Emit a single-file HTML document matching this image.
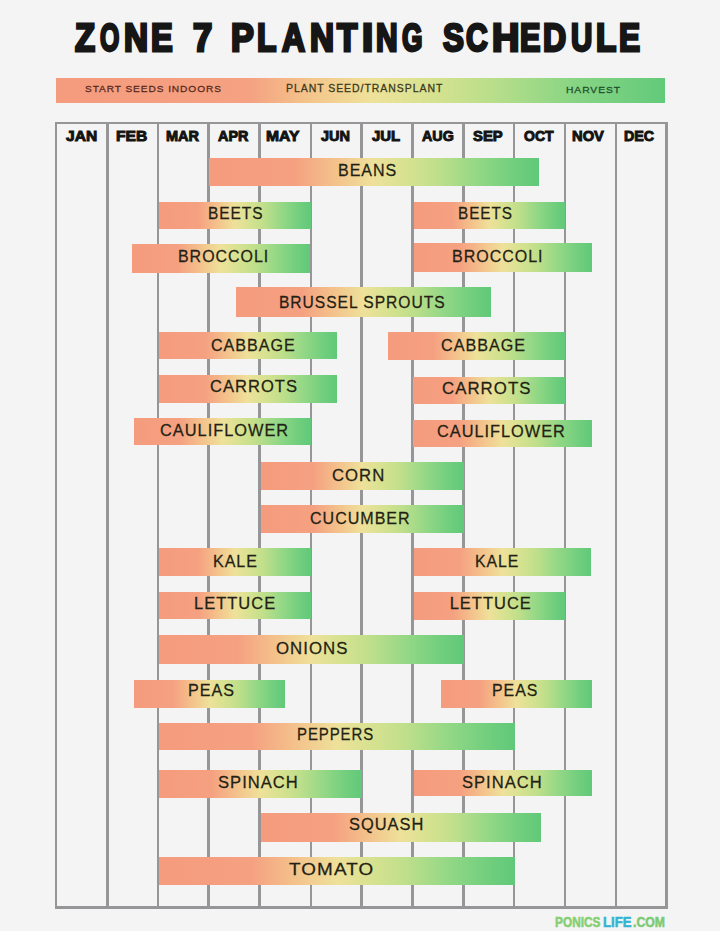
<!DOCTYPE html>
<html><head><meta charset="utf-8"><title>Zone 7 Planting Schedule</title>
<style>
html,body{margin:0;padding:0;}
body{width:720px;height:931px;overflow:hidden;position:relative;background:#f4f4f4;font-family:"Liberation Sans",sans-serif;}
.a{position:absolute;}
.tx{position:absolute;line-height:1;white-space:nowrap;transform-origin:0 0;}
.t{font-weight:bold;font-size:41px;-webkit-text-stroke:3px #161616;}
.m{font-weight:bold;font-size:17px;-webkit-text-stroke:1.1px #111;}
.lb{font-size:16.5px;-webkit-text-stroke:0.25px #231f14;letter-spacing:1px;}
.lg{font-size:11px;-webkit-text-stroke:0.3px currentColor;letter-spacing:1px;}
.ft{font-size:13px;font-weight:bold;-webkit-text-stroke:0.5px currentColor;}
.v{position:absolute;background:#969698;}
.bar{position:absolute;background:linear-gradient(90deg,#f59b7e 0%,#f5a181 26%,#f4c18b 38%,#eee19a 50%,#d6e290 60%,#c0df8b 69%,#94d886 81%,#72cf7e 92%,#60c979 100%);}
</style></head><body>

<div class="tx t" style="left:75.3px;top:18.64px;transform:scale(0.8,0.9406);color:#161616;">Z</div>
<div class="tx t" style="left:99.7px;top:18.64px;transform:scale(0.6063,0.9406);color:#161616;">O</div>
<div class="tx t" style="left:124.49px;top:18.64px;transform:scale(0.8111,0.9406);color:#161616;">N</div>
<div class="tx t" style="left:151.41px;top:18.64px;transform:scale(0.7923,0.9406);color:#161616;">E</div>
<div class="tx t" style="left:192.8px;top:18.64px;transform:scale(0.8435,0.9406);color:#161616;">7</div>
<div class="tx t" style="left:230.71px;top:18.64px;transform:scale(0.8352,0.9406);color:#161616;">P</div>
<div class="tx t" style="left:257.28px;top:18.64px;transform:scale(0.7729,0.9406);color:#161616;">L</div>
<div class="tx t" style="left:281.68px;top:18.64px;transform:scale(0.7774,0.9406);color:#161616;">A</div>
<div class="tx t" style="left:310.09px;top:18.64px;transform:scale(0.8111,0.9406);color:#161616;">N</div>
<div class="tx t" style="left:337.36px;top:18.64px;transform:scale(0.8111,0.9406);color:#161616;">T</div>
<div class="tx t" style="left:362.42px;top:18.64px;transform:scale(0.9778,0.9406);color:#161616;">I</div>
<div class="tx t" style="left:375.57px;top:18.64px;transform:scale(0.7296,0.9406);color:#161616;">N</div>
<div class="tx t" style="left:402.3px;top:18.64px;transform:scale(0.6419,0.9406);color:#161616;">G</div>
<div class="tx t" style="left:442.8px;top:18.64px;transform:scale(0.7648,0.9406);color:#161616;">S</div>
<div class="tx t" style="left:465.9px;top:18.64px;transform:scale(0.73,0.9406);color:#161616;">C</div>
<div class="tx t" style="left:491.87px;top:18.64px;transform:scale(0.9259,0.9406);color:#161616;">H</div>
<div class="tx t" style="left:519.55px;top:18.64px;transform:scale(0.7462,0.9406);color:#161616;">E</div>
<div class="tx t" style="left:543.27px;top:18.64px;transform:scale(0.7821,0.9406);color:#161616;">D</div>
<div class="tx t" style="left:570.83px;top:18.64px;transform:scale(0.7196,0.9406);color:#161616;">U</div>
<div class="tx t" style="left:595.74px;top:18.64px;transform:scale(0.8083,0.9406);color:#161616;">L</div>
<div class="tx t" style="left:618.93px;top:18.64px;transform:scale(0.7692,0.9406);color:#161616;">E</div>
<div class="a" style="left:55.5px;top:77.5px;width:609.5px;height:25.5px;background:linear-gradient(90deg,#f59b7e 0%,#f5a282 32%,#f4c68c 42%,#eee29a 52%,#d6e290 62%,#b8de8a 72%,#88d584 85%,#62ca7a 100%);"></div>
<div class="tx lg" style="left:84.9px;top:84.41px;transform:scale(0.9211,0.8875);color:#58291d;">START SEEDS INDOORS</div>
<div class="tx lg" style="left:286.45px;top:84.19px;transform:scale(0.9528,0.9125);color:#3c3a1e;">PLANT SEED/TRANSPLANT</div>
<div class="tx lg" style="left:566.16px;top:84.6px;transform:scale(0.9351,0.9);color:#1d4f2c;">HARVEST</div>
<div class="v" style="left:54.90px;top:121.5px;width:2.6px;height:787.1px;"></div>
<div class="v" style="left:106.00px;top:121.5px;width:2.6px;height:787.1px;"></div>
<div class="v" style="left:156.60px;top:121.5px;width:2.6px;height:787.1px;"></div>
<div class="v" style="left:207.40px;top:121.5px;width:2.6px;height:787.1px;"></div>
<div class="v" style="left:258.40px;top:121.5px;width:2.6px;height:787.1px;"></div>
<div class="v" style="left:309.60px;top:121.5px;width:2.6px;height:787.1px;"></div>
<div class="v" style="left:360.20px;top:121.5px;width:2.6px;height:787.1px;"></div>
<div class="v" style="left:411.30px;top:121.5px;width:2.6px;height:787.1px;"></div>
<div class="v" style="left:462.00px;top:121.5px;width:2.6px;height:787.1px;"></div>
<div class="v" style="left:512.90px;top:121.5px;width:2.6px;height:787.1px;"></div>
<div class="v" style="left:563.80px;top:121.5px;width:2.6px;height:787.1px;"></div>
<div class="v" style="left:614.70px;top:121.5px;width:2.6px;height:787.1px;"></div>
<div class="v" style="left:665.40px;top:121.5px;width:2.6px;height:787.1px;"></div>
<div class="v" style="left:54.90px;top:121.5px;width:613.10px;height:2.5px;"></div>
<div class="v" style="left:54.90px;top:906.10px;width:613.10px;height:2.5px;"></div>
<div class="tx m" style="left:65.9px;top:129.04px;transform:scale(0.9147,0.8571);color:#141414;">JAN</div>
<div class="tx m" style="left:115.98px;top:129.04px;transform:scale(0.9182,0.8571);color:#141414;">FEB</div>
<div class="tx m" style="left:165.64px;top:129.04px;transform:scale(0.8553,0.8571);color:#141414;">MAR</div>
<div class="tx m" style="left:218.0px;top:129.04px;transform:scale(0.85,0.8571);color:#141414;">APR</div>
<div class="tx m" style="left:266.08px;top:129.04px;transform:scale(0.9222,0.8571);color:#141414;">MAY</div>
<div class="tx m" style="left:321.0px;top:129.04px;transform:scale(0.8529,0.8571);color:#141414;">JUN</div>
<div class="tx m" style="left:372.0px;top:129.04px;transform:scale(0.875,0.8571);color:#141414;">JUL</div>
<div class="tx m" style="left:421.5px;top:129.04px;transform:scale(0.8405,0.8571);color:#141414;">AUG</div>
<div class="tx m" style="left:472.5px;top:129.04px;transform:scale(0.8735,0.8571);color:#141414;">SEP</div>
<div class="tx m" style="left:523.5px;top:129.04px;transform:scale(0.825,0.8571);color:#141414;">OCT</div>
<div class="tx m" style="left:572.13px;top:129.04px;transform:scale(0.8667,0.8571);color:#141414;">NOV</div>
<div class="tx m" style="left:624.16px;top:129.04px;transform:scale(0.84,0.8571);color:#141414;">DEC</div>
<div class="bar" style="left:208.5px;top:157.8px;width:330.70px;height:28.70px;"></div>
<div class="bar" style="left:158.5px;top:201.7px;width:152.00px;height:27.20px;"></div>
<div class="bar" style="left:413.5px;top:201.7px;width:151.50px;height:27.30px;"></div>
<div class="bar" style="left:132.3px;top:243.5px;width:178.20px;height:29.00px;"></div>
<div class="bar" style="left:413.5px;top:243.3px;width:178.50px;height:29.00px;"></div>
<div class="bar" style="left:236px;top:287.2px;width:254.80px;height:29.60px;"></div>
<div class="bar" style="left:159.2px;top:332.3px;width:177.80px;height:27.00px;"></div>
<div class="bar" style="left:387.5px;top:332.3px;width:177.80px;height:27.70px;"></div>
<div class="bar" style="left:159px;top:375.1px;width:178.20px;height:27.50px;"></div>
<div class="bar" style="left:413.3px;top:377px;width:152.00px;height:27.00px;"></div>
<div class="bar" style="left:134.3px;top:418px;width:176.70px;height:27.30px;"></div>
<div class="bar" style="left:413.3px;top:419.6px;width:178.70px;height:27.40px;"></div>
<div class="bar" style="left:260.8px;top:461.9px;width:203.20px;height:28.60px;"></div>
<div class="bar" style="left:260.8px;top:504.8px;width:203.20px;height:28.20px;"></div>
<div class="bar" style="left:158.5px;top:548.4px;width:152.00px;height:27.60px;"></div>
<div class="bar" style="left:413.5px;top:548.4px;width:177.20px;height:28.10px;"></div>
<div class="bar" style="left:158.5px;top:591.6px;width:152.10px;height:27.40px;"></div>
<div class="bar" style="left:413.6px;top:592.2px;width:151.90px;height:27.80px;"></div>
<div class="bar" style="left:158.5px;top:635px;width:305.70px;height:29.00px;"></div>
<div class="bar" style="left:134.2px;top:679.5px;width:151.30px;height:28.00px;"></div>
<div class="bar" style="left:440.5px;top:679.5px;width:151.50px;height:28.00px;"></div>
<div class="bar" style="left:158.5px;top:722.7px;width:356.50px;height:27.30px;"></div>
<div class="bar" style="left:158.5px;top:769.7px;width:203.80px;height:27.90px;"></div>
<div class="bar" style="left:414px;top:769.7px;width:177.50px;height:26.80px;"></div>
<div class="bar" style="left:261.3px;top:812.5px;width:280.20px;height:29.90px;"></div>
<div class="bar" style="left:159px;top:857.4px;width:356.00px;height:27.60px;"></div>
<div class="tx lb" style="left:337.63px;top:160.82px;transform:scale(0.9724,1.0417);color:#231f14;">BEANS</div>
<div class="tx lb" style="left:208.46px;top:204.32px;transform:scale(0.9375,1.0417);color:#231f14;">BEETS</div>
<div class="tx lb" style="left:458.07px;top:204.07px;transform:scale(0.9286,1.0417);color:#231f14;">BEETS</div>
<div class="tx lb" style="left:177.63px;top:247.22px;transform:scale(0.9681,1.0417);color:#231f14;">BROCCOLI</div>
<div class="tx lb" style="left:452.33px;top:247.22px;transform:scale(0.9714,1.0417);color:#231f14;">BROCCOLI</div>
<div class="tx lb" style="left:278.75px;top:292.57px;transform:scale(0.9474,1.0417);color:#231f14;">BRUSSEL SPROUTS</div>
<div class="tx lb" style="left:211.32px;top:335.57px;transform:scale(0.9762,1.0417);color:#231f14;">CABBAGE</div>
<div class="tx lb" style="left:440.72px;top:335.72px;transform:scale(0.9798,1.0417);color:#231f14;">CABBAGE</div>
<div class="tx lb" style="left:209.7px;top:377.42px;transform:scale(1.0035,1.0417);color:#231f14;">CARROTS</div>
<div class="tx lb" style="left:442.28px;top:378.57px;transform:scale(1.02,1.0417);color:#231f14;">CARROTS</div>
<div class="tx lb" style="left:159.71px;top:420.72px;transform:scale(0.9921,1.0417);color:#231f14;">CAULIFLOWER</div>
<div class="tx lb" style="left:437.31px;top:421.87px;transform:scale(0.9898,1.0417);color:#231f14;">CAULIFLOWER</div>
<div class="tx lb" style="left:332.29px;top:465.72px;transform:scale(1.014,1.0417);color:#231f14;">CORN</div>
<div class="tx lb" style="left:310.03px;top:508.57px;transform:scale(0.9733,1.0417);color:#231f14;">CUCUMBER</div>
<div class="tx lb" style="left:213.03px;top:551.57px;transform:scale(0.9705,1.0417);color:#231f14;">KALE</div>
<div class="tx lb" style="left:475.04px;top:552.22px;transform:scale(0.9614,1.0417);color:#231f14;">KALE</div>
<div class="tx lb" style="left:194.0px;top:594.07px;transform:scale(1.0,1.0417);color:#231f14;">LETTUCE</div>
<div class="tx lb" style="left:449.7px;top:594.37px;transform:scale(1.0,1.0417);color:#231f14;">LETTUCE</div>
<div class="tx lb" style="left:275.68px;top:638.72px;transform:scale(1.0191,1.0417);color:#231f14;">ONIONS</div>
<div class="tx lb" style="left:188.32px;top:681.42px;transform:scale(0.9778,1.0417);color:#231f14;">PEAS</div>
<div class="tx lb" style="left:492.34px;top:681.42px;transform:scale(0.9644,1.0417);color:#231f14;">PEAS</div>
<div class="tx lb" style="left:297.39px;top:725.27px;transform:scale(0.9073,1.0417);color:#231f14;">PEPPERS</div>
<div class="tx lb" style="left:218.29px;top:772.72px;transform:scale(1.0052,1.0417);color:#231f14;">SPINACH</div>
<div class="tx lb" style="left:461.7px;top:772.72px;transform:scale(1.0039,1.0417);color:#231f14;">SPINACH</div>
<div class="tx lb" style="left:349.0px;top:815.17px;transform:scale(0.9959,1.0417);color:#231f14;">SQUASH</div>
<div class="tx lb" style="left:289.3px;top:860.27px;transform:scale(1.1425,1.0417);color:#231f14;">TOMATO</div>
<div class="tx ft" style="left:554.69px;top:914.54px;transform:scale(0.9122,1.0778);color:#86cf72;">PONICS</div>
<div class="tx ft" style="left:603.19px;top:914.54px;transform:scale(1.0074,1.0778);color:#34b4d2;">LIFE</div>
<div class="tx ft" style="left:633.46px;top:914.54px;transform:scale(0.9406,1.0778);color:#7ccb74;">.COM</div>
</body></html>
